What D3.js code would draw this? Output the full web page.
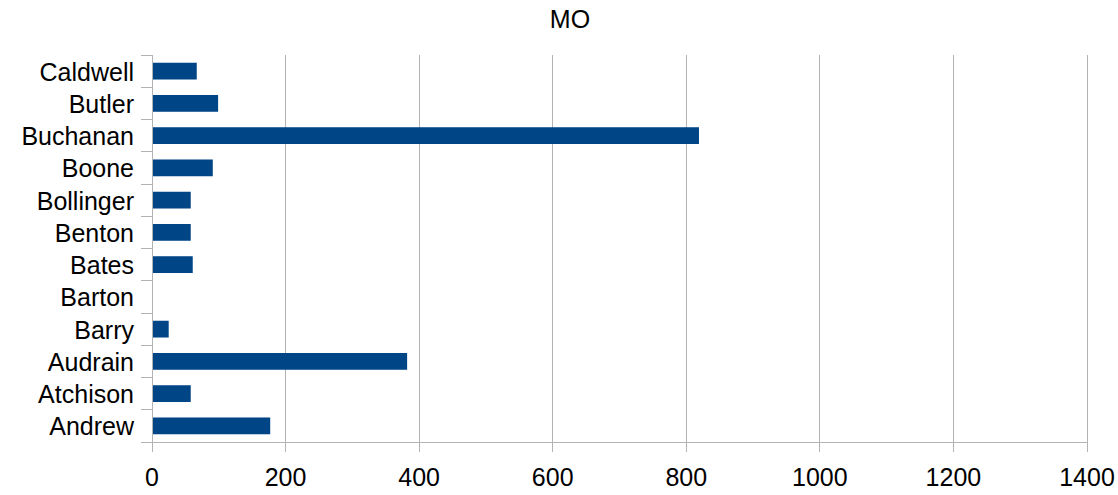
<!DOCTYPE html>
<html><head><meta charset="utf-8">
<script src="https://cdn.jsdelivr.net/npm/d3@7"></script>
<style>body{margin:0;background:#fff}svg{display:block}</style>
</head><body>
<script>
const title = "MO";
const categories = ["Andrew","Atchison","Audrain","Barry","Barton","Bates","Benton","Bollinger","Boone","Buchanan","Butler","Caldwell"];
const values = [177, 58, 382, 25, 0, 61, 58, 58, 91, 819, 99, 67];
const xTicks = [0,200,400,600,800,1000,1200,1400];

const W=1118,H=495;
const m={l:152,r:1118-1087,t:55,b:495-442};
const svg=d3.select("body").append("svg").attr("width",W).attr("height",H);
const font="'Liberation Sans', Arial, sans-serif";
const x=d3.scaleLinear().domain([0,1400]).range([m.l,W-m.r]);
const y=d3.scaleBand().domain(categories.slice().reverse()).range([m.t,H-m.b]).paddingInner(0.48).paddingOuter(0.24);
const yb=d3.scaleBand().domain(categories.slice().reverse()).range([m.t,H-m.b]);

// gridlines
svg.append("g").selectAll("line").data(xTicks).join("line")
  .attr("x1",d=>x(d)).attr("x2",d=>x(d)).attr("y1",m.t).attr("y2",H-m.b+10)
  .attr("stroke","#b3b3b3").attr("stroke-width",1).attr("shape-rendering","crispEdges");
// bars
svg.append("g").selectAll("rect").data(categories).join("rect")
  .attr("x",x(0)).attr("y",d=>y(d)).attr("height",y.bandwidth())
  .attr("width",(d,i)=>x(values[i])-x(0)).attr("fill","#004586");
// x axis line
svg.append("line").attr("x1",x(0)).attr("x2",x(1400)).attr("y1",H-m.b).attr("y2",H-m.b)
  .attr("stroke","#b3b3b3").attr("shape-rendering","crispEdges");
// y axis line
svg.append("line").attr("x1",x(0)).attr("x2",x(0)).attr("y1",m.t).attr("y2",H-m.b)
  .attr("stroke","#b3b3b3").attr("shape-rendering","crispEdges");
// y ticks at boundaries
const bounds=categories.map(c=>yb(c)).concat([H-m.b]);
svg.append("g").selectAll("line").data(bounds).join("line")
  .attr("x1",x(0)-11).attr("x2",x(0)).attr("y1",d=>d).attr("y2",d=>d)
  .attr("stroke","#b3b3b3").attr("shape-rendering","crispEdges");
// x tick labels
svg.append("g").selectAll("text").data(xTicks).join("text")
  .attr("x",d=>x(d)).attr("y",486).attr("text-anchor","middle")
  .attr("font-family",font).attr("font-size",25).attr("fill","#000").text(d=>d);
// y labels
svg.append("g").selectAll("text").data(categories).join("text")
  .attr("x",134).attr("y",d=>yb(d)+yb.bandwidth()/2+9.5).attr("text-anchor","end")
  .attr("font-family",font).attr("font-size",25).attr("fill","#000").text(d=>d);
// title
svg.append("text").attr("x",570).attr("y",28.3).attr("text-anchor","middle")
  .attr("font-family",font).attr("font-size",25).attr("fill","#000").text(title);
</script>
</body></html>
